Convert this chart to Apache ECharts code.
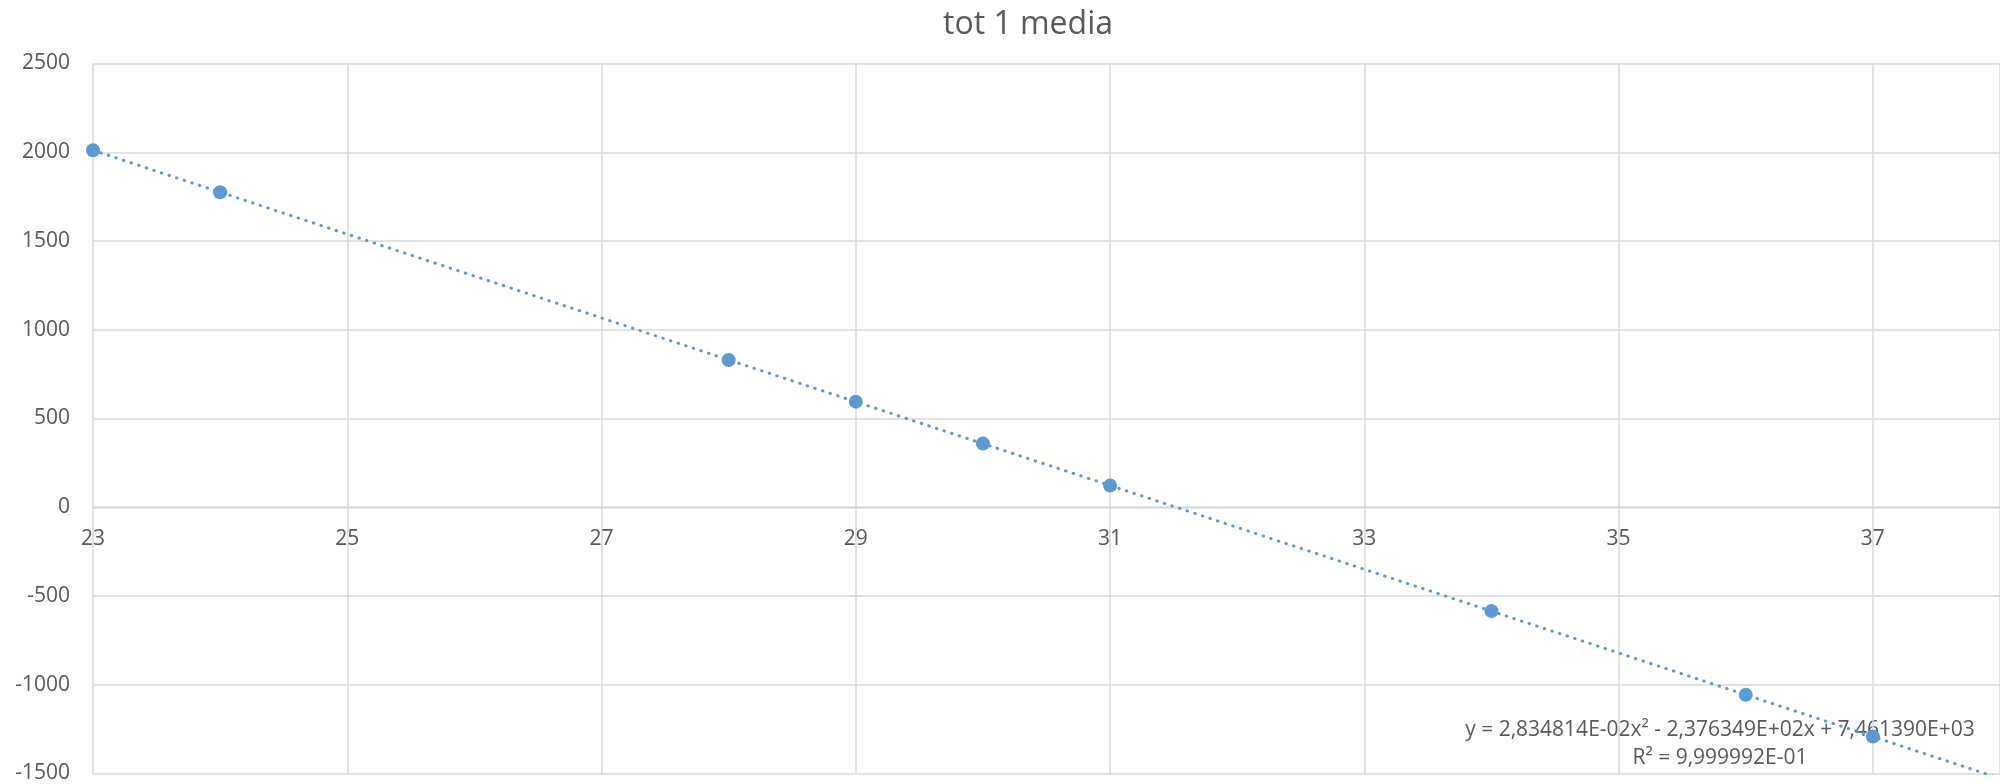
<!DOCTYPE html>
<html>
<head>
<meta charset="utf-8">
<title>tot 1 media</title>
<script src="https://cdn.jsdelivr.net/npm/echarts@6/dist/echarts.min.js"></script>
<style>
  html, body { margin: 0; padding: 0; background: #ffffff; }
  #chart { width: 2000px; height: 784px; }
</style>
</head>
<body>
<div id="chart"></div>
<script>
// Measured points
const xValues = [23, 24, 28, 29, 30, 31, 34, 36, 37];
const yValues = [2011, 1775, 829, 595, 359, 122, -585, -1057, -1292];

// Axis ranges and tick steps
const xAxisRange = [23, 38];
const xTickStep = 2;
const yAxisRange = [-1500, 2500];
const yTickStep = 500;

// Trendline annotation
const trendEquation = 'y = 2,834814E-02x\u00B2 - 2,376349E+02x + 7,461390E+03';
const trendR2 = 'R\u00B2 = 9,999992E-01';

const chartTitle = 'tot 1 media';

// Least-squares fit of a second-order polynomial to the measured points
function fitQuadratic(xs, ys) {
  const s = [0, 0, 0, 0, 0];
  const t = [0, 0, 0];
  for (let i = 0; i < xs.length; i++) {
    let p = 1;
    for (let k = 0; k < 5; k++) {
      s[k] += p;
      if (k < 3) t[k] += p * ys[i];
      p *= xs[i];
    }
  }
  const m = [
    [s[0], s[1], s[2], t[0]],
    [s[1], s[2], s[3], t[1]],
    [s[2], s[3], s[4], t[2]]
  ];
  for (let c = 0; c < 3; c++) {
    let piv = c;
    for (let r = c + 1; r < 3; r++) if (Math.abs(m[r][c]) > Math.abs(m[piv][c])) piv = r;
    [m[c], m[piv]] = [m[piv], m[c]];
    for (let r = 0; r < 3; r++) {
      if (r === c) continue;
      const f = m[r][c] / m[c][c];
      for (let k = c; k < 4; k++) m[r][k] -= f * m[c][k];
    }
  }
  return [m[0][3] / m[0][0], m[1][3] / m[1][1], m[2][3] / m[2][2]];
}

const coef = fitQuadratic(xValues, yValues);
const trendPoints = [];
for (let x = xValues[0]; x <= xAxisRange[1] + 1e-9; x += 0.1) {
  trendPoints.push([x, coef[0] + coef[1] * x + coef[2] * x * x]);
}

const points = xValues.map((x, i) => [x, yValues[i]]);

const textColor = '#595959';
const gridColor = '#d9d9d9';
const blue = '#5b9bd5';
const font = '"Open Sans", "Noto Sans", sans-serif';

// Plot area, and the horizontal axis moved up to sit on y = 0
const gridBox = { left: 93, right: 0, top: 63.5, bottom: 10 };
const plotHeight = 784 - gridBox.top - gridBox.bottom;
const zeroOffset = -plotHeight * (0 - yAxisRange[0]) / (yAxisRange[1] - yAxisRange[0]);

const chart = echarts.init(document.getElementById('chart'), null, { renderer: 'canvas' });
chart.setOption({
  animation: false,
  backgroundColor: '#ffffff',
  title: {
    text: chartTitle,
    left: 938,
    top: 4,
    textStyle: { color: textColor, fontSize: 32, fontWeight: 'normal', fontFamily: font }
  },
  grid: gridBox,
  xAxis: {
    type: 'value',
    position: 'bottom',
    offset: zeroOffset,
    min: xAxisRange[0],
    max: xAxisRange[1],
    interval: xTickStep,
    axisLine: { show: true, onZero: false, lineStyle: { color: gridColor, width: 1.5 } },
    axisTick: { show: false },
    axisLabel: {
      color: textColor, fontSize: 21, fontFamily: font, margin: 21,
      showMaxLabel: false
    },
    splitLine: { show: true, lineStyle: { color: gridColor, width: 1.5 } }
  },
  yAxis: {
    type: 'value',
    min: yAxisRange[0],
    max: yAxisRange[1],
    interval: yTickStep,
    axisLine: { show: false, onZero: false },
    axisTick: { show: false },
    axisLabel: {
      color: textColor, fontSize: 21, fontFamily: font, margin: 23,
      formatter: (v) => String(v)
    },
    splitLine: { show: true, lineStyle: { color: gridColor, width: 1.5 } }
  },
  // Trendline equation sits beneath the markers and the dotted curve
  graphic: [{
    type: 'text',
    x: 1720,
    y: 716,
    z: 0,
    style: {
      text: trendEquation + '\n' + trendR2,
      fill: textColor,
      font: '21px ' + font,
      align: 'center',
      lineHeight: 28
    }
  }],
  series: [
    {
      type: 'line',
      data: trendPoints,
      showSymbol: false,
      smooth: false,
      clip: true,
      lineStyle: { color: blue, width: 3, type: [0.5, 7.5], cap: 'round' },
      z: 2
    },
    {
      type: 'scatter',
      data: points,
      symbol: 'circle',
      symbolSize: 14,
      itemStyle: { color: blue, opacity: 1 },
      z: 3
    }
  ]
});
</script>
</body>
</html>
